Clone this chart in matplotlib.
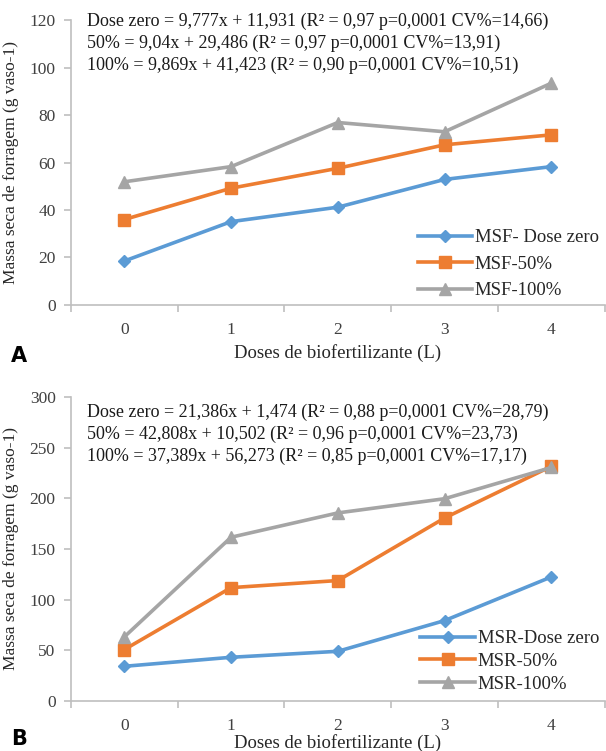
import numpy as np
import matplotlib
matplotlib.use("Agg")
import matplotlib.pyplot as plt
from matplotlib.ticker import FixedLocator

plt.rcParams['font.family'] = ['Liberation Serif', 'DejaVu Serif']

doses = [0, 1, 2, 3, 4]

# painel A - MSF
msf_zero = [18.5, 35.1, 41.2, 52.9, 58.3]
msf_50 = [36.0, 49.2, 57.6, 67.5, 71.7]
msf_100 = [51.9, 58.3, 76.9, 73.0, 93.5]
eq_a = ["Dose zero = 9,777x + 11,931 (R² = 0,97 p=0,0001 CV%=14,66)",
        "50% = 9,04x + 29,486 (R² = 0,97 p=0,0001 CV%=13,91)",
        "100% = 9,869x + 41,423 (R² = 0,90 p=0,0001 CV%=10,51)"]

# painel B - MSR
msr_zero = [34.2, 43.1, 49.0, 79.3, 122.4]
msr_50 = [50.7, 111.8, 118.8, 180.5, 231.5]
msr_100 = [63.2, 161.5, 185.5, 199.5, 230.3]
eq_b = ["Dose zero = 21,386x + 1,474 (R² = 0,88 p=0,0001 CV%=28,79)",
        "50% = 42,808x + 10,502 (R² = 0,96 p=0,0001 CV%=23,73)",
        "100% = 37,389x + 56,273 (R² = 0,85 p=0,0001 CV%=17,17)"]

cores = ['#5B9BD5', '#ED7D31', '#A5A5A5']
marcadores = ['D', 's', '^']
tam = [6.5, 9, 9]
cinza_eixo = '#BFBFBF'
cinza_txt = '#404040'

fig = plt.figure(figsize=(6.06, 7.51), dpi=100)
ax1 = fig.add_axes([0.117, 0.594, 0.881, 0.379])
ax2 = fig.add_axes([0.117, 0.0666, 0.881, 0.405])


def desenha(ax, series, nomes, ymax, ystep, eqs, eq_y, leg_y, leg_sp, xpad):
    for s, nome, c, m, ms in zip(series, nomes, cores, marcadores, tam):
        ax.plot(doses, s, color=c, lw=2.6, marker=m, markersize=ms,
                markeredgecolor=c, label=nome)
    ax.set_xlim(-0.5, 4.5)
    ax.set_ylim(0, ymax)
    ax.set_yticks(np.arange(0, ymax + 1, ystep))
    ax.set_xticks(doses)
    ax.xaxis.set_minor_locator(FixedLocator(np.arange(-0.5, 4.6, 1)))
    ax.tick_params(axis='x', which='major', length=0, pad=12,
                   labelsize=12.5, labelcolor=cinza_txt)
    ax.tick_params(axis='x', which='minor', length=5, color=cinza_eixo, width=1.2)
    ax.tick_params(axis='y', length=5, color=cinza_eixo, width=1.2,
                   labelsize=12.5, labelcolor=cinza_txt, pad=6)
    for lado in ['top', 'right']:
        ax.spines[lado].set_visible(False)
    for lado in ['left', 'bottom']:
        ax.spines[lado].set_color(cinza_eixo)
        ax.spines[lado].set_linewidth(1.2)
    ax.set_ylabel("Massa seca de forragem (g vaso-1)", fontsize=12.5, color='#262626')
    ax.yaxis.set_label_coords(-0.098, 0.5)
    ax.set_xlabel("Doses de biofertilizante (L)", fontsize=13.5, color='#262626',
                  labelpad=xpad)
    ax.text(0.03, eq_y, "\n".join(eqs), transform=ax.transAxes,
            fontsize=13, va='top', ha='left', linespacing=1.35, color='#1a1a1a')
    leg = ax.legend(loc='lower right', bbox_to_anchor=(1.01, leg_y), frameon=False,
                    fontsize=13.5, handlelength=2.9, handletextpad=0.15,
                    labelspacing=leg_sp, borderaxespad=0.2)
    for t in leg.get_texts():
        t.set_color('#262626')


desenha(ax1, [msf_zero, msf_50, msf_100],
        ["MSF- Dose zero", "MSF-50%", "MSF-100%"], 120, 20, eq_a, 1.025, -0.02, 0.5, 5)
desenha(ax2, [msr_zero, msr_50, msr_100],
        ["MSR-Dose zero", "MSR-50%", "MSR-100%"], 300, 50, eq_b, 0.978, -0.01, 0.3, 0)

fig.text(0.018, 0.518, "A", fontsize=15, fontweight='bold', family='DejaVu Sans')
fig.text(0.018, 0.008, "B", fontsize=15, fontweight='bold', family='DejaVu Sans')

fig.savefig("out.png", dpi=100)
